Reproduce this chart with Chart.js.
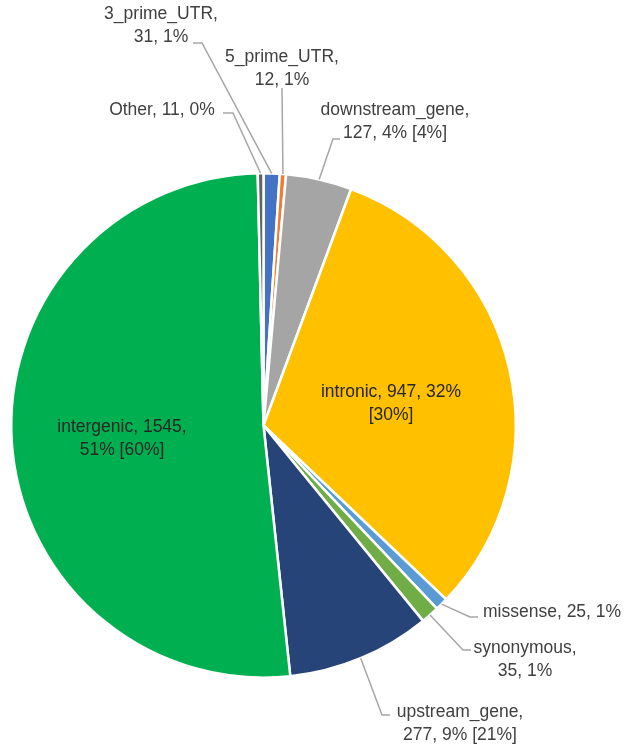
<!DOCTYPE html>
<html>
<head>
<meta charset="utf-8">
<script src="https://cdn.jsdelivr.net/npm/chart.js@4.4.1/dist/chart.umd.min.js"></script>
<style>
  html, body { margin: 0; padding: 0; background: #ffffff; }
  canvas { display: block; }
</style>
</head>
<body>
<canvas id="c" width="629" height="749"></canvas>
<script>
// ---- data ----
const categories = ["3_prime_UTR", "5_prime_UTR", "downstream_gene", "intronic", "missense", "synonymous", "upstream_gene", "intergenic", "Other"];
const counts     = [31, 12, 127, 947, 25, 35, 277, 1545, 11];
const percents   = ["1%", "1%", "4%", "32%", "1%", "1%", "9%", "51%", "0%"];
const bracketPct = ["", "", "4%", "30%", "", "", "21%", "60%", ""];
const colors     = ["#4472C4", "#ED7D31", "#A5A5A5", "#FFC000", "#5B9BD5", "#70AD47", "#264478", "#00B050", "#636363"];

// label text built from the data arrays
function labelText(i) {
  const extra = bracketPct[i] ? " [" + bracketPct[i] + "]" : "";
  return categories[i] + ", " + counts[i] + ", " + percents[i] + extra;
}

// ---- label layout (offsets from pie centre, px) ----
const labelLayout = [
  { split: [13], tx: -102.5, ty: -411.5, align: "center", elbow: [-61.5, -382.5], end: [-70.5, -382.5] },
  { split: [13], tx: 18.5, ty: -368.5, align: "center", elbow: [18.5, -337.5], end: [18.5, -337.5] },
  { split: [17], tx: 131.5, ty: -315.5, align: "center", elbow: [69.5, -286.5], end: [76.5, -286.5] },
  { split: [19], tx: 127.5, ty: -33.5, align: "center", elbow: null, end: null },
  { split: [], tx: 219.5, ty: 186.5, align: "left", elbow: [206.5, 191.5], end: [214.5, 191.5] },
  { split: [12], tx: 261.5, ty: 222.5, align: "center", elbow: [199.5, 224.5], end: [207.5, 224.5] },
  { split: [15], tx: 196.5, ty: 286.5, align: "center", elbow: [118.5, 289.5], end: [126.5, 289.5] },
  { split: [18], tx: -141.5, ty: 1.5, align: "center", elbow: null, end: null },
  { split: [], tx: -101.5, ty: -315.5, align: "center", elbow: [-30.5, -312.5], end: [-40.5, -312.5] }
];

function splitLines(txt, cuts) {
  const out = []; let p = 0;
  cuts.forEach(c => { out.push(txt.slice(p, c).trim()); p = c; });
  out.push(txt.slice(p).trim());
  return out;
}

const labelPlugin = {
  id: "pieLabels",
  afterDatasetsDraw(chart) {
    const ctx = chart.ctx;
    const meta = chart.getDatasetMeta(0);
    ctx.save();
    ctx.font = "17.5px 'Liberation Sans', Arial, sans-serif";
    ctx.textBaseline = "middle";
    meta.data.forEach((arc, i) => {
      const L = labelLayout[i];
      const cx = arc.x, cy = arc.y;
      const mid = (arc.startAngle + arc.endAngle) / 2;
      if (L.elbow) {
        const sx = cx + Math.cos(mid) * arc.outerRadius;
        const sy = cy + Math.sin(mid) * arc.outerRadius;
        ctx.strokeStyle = "#A6A6A6";
        ctx.lineWidth = 1.5;
        ctx.beginPath();
        ctx.moveTo(sx, sy);
        ctx.lineTo(cx + L.elbow[0], cy + L.elbow[1]);
        ctx.lineTo(cx + L.end[0], cy + L.end[1]);
        ctx.stroke();
      }
      const lines = splitLines(labelText(i), L.split);
      ctx.fillStyle = L.elbow ? "#404040" : "#262626";
      ctx.textAlign = L.align;
      lines.forEach((ln, k) => {
        ctx.fillText(ln, cx + L.tx, cy + L.ty + k * 23.5);
      });
    });
    ctx.restore();
  }
};

new Chart(document.getElementById("c"), {
  type: "pie",
  data: {
    labels: categories,
    datasets: [{
      data: counts,
      backgroundColor: colors,
      borderColor: "#ffffff",
      borderWidth: 2.5
    }]
  },
  options: {
    responsive: false,
    animation: false,
    layout: { padding: { left: 9, right: 111, top: 172, bottom: 70 } },
    plugins: { legend: { display: false }, tooltip: { enabled: false } }
  },
  plugins: [labelPlugin]
});
</script>
</body>
</html>
